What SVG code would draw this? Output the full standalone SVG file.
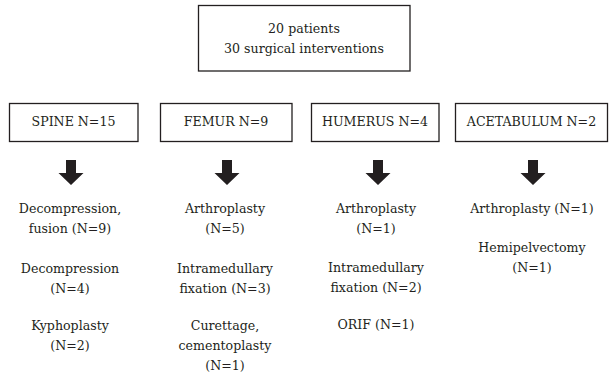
<svg xmlns="http://www.w3.org/2000/svg" width="611" height="377" viewBox="0 0 611 377">
<defs>
<style>
.box{fill:#fff;stroke:#231f20;stroke-width:1.3}
text{font-family:"DejaVu Serif","Liberation Serif",serif;font-size:12.6px;fill:#231f20;text-anchor:middle}
.arr{fill:#231f20}
</style>
<path id="arrow" d="M-5,0 H5 V13 H12.5 L0,25 L-12.5,13 H-5 Z"/>
</defs>
<rect width="611" height="377" fill="#fff"/>
<g id="root">
<rect class="box" x="198.5" y="5.5" width="211.5" height="65.5"/>
<text x="304" y="33">20 patients</text>
<text x="304" y="53">30 surgical interventions</text>
</g>
<g id="spine">
<rect class="box" x="9.5" y="103.5" width="128.5" height="38"/>
<text x="73.5" y="126">SPINE N=15</text>
</g>
<g id="femur">
<rect class="box" x="160.5" y="103.5" width="131.5" height="38"/>
<text x="226" y="126">FEMUR N=9</text>
</g>
<g id="humerus">
<rect class="box" x="311.5" y="103.5" width="127.5" height="38"/>
<text x="375" y="126">HUMERUS N=4</text>
</g>
<g id="acetabulum">
<rect class="box" x="455.5" y="103.5" width="152" height="38"/>
<text x="531.5" y="126">ACETABULUM N=2</text>
</g>
<g id="connectors" class="arr">
<use href="#arrow" x="71" y="160"/>
<use href="#arrow" x="227" y="160"/>
<use href="#arrow" x="378" y="160"/>
<use href="#arrow" x="533" y="160"/>
</g>
<g id="spine-items">
<text x="70" y="213">Decompression,</text>
<text x="70" y="233">fusion (N=9)</text>
<text x="70" y="273">Decompression</text>
<text x="70" y="293">(N=4)</text>
<text x="70" y="330">Kyphoplasty</text>
<text x="70" y="350">(N=2)</text>
</g>
<g id="femur-items">
<text x="225" y="213">Arthroplasty</text>
<text x="225" y="233">(N=5)</text>
<text x="225" y="273">Intramedullary</text>
<text x="225" y="293">fixation (N=3)</text>
<text x="225" y="330">Curettage,</text>
<text x="225" y="350">cementoplasty</text>
<text x="225" y="370">(N=1)</text>
</g>
<g id="humerus-items">
<text x="376" y="213">Arthroplasty</text>
<text x="376" y="233">(N=1)</text>
<text x="376" y="272">Intramedullary</text>
<text x="376" y="292">fixation (N=2)</text>
<text x="376" y="329">ORIF (N=1)</text>
</g>
<g id="acetabulum-items">
<text x="532" y="213">Arthroplasty (N=1)</text>
<text x="532" y="252">Hemipelvectomy</text>
<text x="532" y="272">(N=1)</text>
</g>
</svg>
